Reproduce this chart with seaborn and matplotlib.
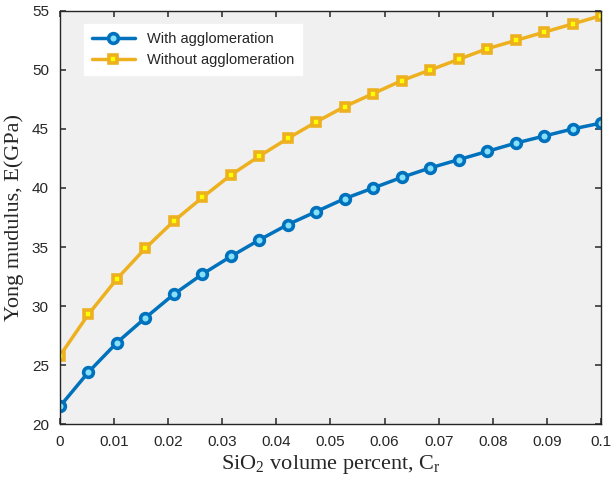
import matplotlib
matplotlib.use('Agg')
import matplotlib.pyplot as plt
import seaborn as sns
import pandas as pd

# Volume fraction of SiO2 (20 points)
cr = [0.0, 0.00526, 0.01053, 0.01579, 0.02105, 0.02632, 0.03158, 0.03684, 0.04211, 0.04737,
      0.05263, 0.05789, 0.06316, 0.06842, 0.07368, 0.07895, 0.08421, 0.08947, 0.09474, 0.1]
e_with = [21.5, 24.4, 26.9, 29.0, 31.0, 32.7, 34.2, 35.6, 36.9, 38.0,
          39.1, 40.0, 40.9, 41.7, 42.4, 43.1, 43.8, 44.4, 45.0, 45.5]
e_without = [25.8, 29.3, 32.3, 34.9, 37.2, 39.2, 41.1, 42.7, 44.2, 45.6,
             46.9, 48.0, 49.1, 50.0, 50.9, 51.8, 52.5, 53.2, 53.9, 54.6]
labels = ['With agglomeration', 'Without agglomeration']
xticks = [0, 0.01, 0.02, 0.03, 0.04, 0.05, 0.06, 0.07, 0.08, 0.09, 0.1]
xticklabels = ['0', '0.01', '0.02', '0.03', '0.04', '0.05', '0.06', '0.07', '0.08', '0.09', '0.1']
yticks = [20, 25, 30, 35, 40, 45, 50, 55]

BLUE = '#0072BD'
BLUE_FACE = '#85E0FA'
ORANGE = '#EDB120'
YELLOW_FACE = '#FFFF00'
INK = '#262626'

sns.set_theme(style='ticks', rc={
    'xtick.direction': 'in', 'ytick.direction': 'in',
    'xtick.top': True, 'ytick.right': True,
    'xtick.bottom': True, 'ytick.left': True,
    'xtick.major.size': 4, 'ytick.major.size': 4,
    'xtick.major.width': 1.1, 'ytick.major.width': 1.1,
    'xtick.color': INK, 'ytick.color': INK,
})
plt.rcParams['font.family'] = ['Liberation Sans', 'DejaVu Sans']
plt.rcParams['mathtext.fontset'] = 'custom'
plt.rcParams['mathtext.rm'] = 'Liberation Serif'

df = pd.DataFrame({'cr': cr, labels[0]: e_with, labels[1]: e_without})

fig = plt.figure(figsize=(6.11, 4.88), dpi=100)
ax = fig.add_axes([0.0982, 0.1311, 0.8854, 0.8464])
ax.set_facecolor('#F0F0F0')

sns.lineplot(data=df, x='cr', y=labels[0], ax=ax, color=BLUE, lw=2.5,
             marker='o', markersize=7, markerfacecolor=BLUE_FACE,
             markeredgecolor=BLUE, markeredgewidth=2.6, label=labels[0])
sns.lineplot(data=df, x='cr', y=labels[1], ax=ax, color=ORANGE, lw=2.5,
             marker='s', markersize=6, markerfacecolor=YELLOW_FACE,
             markeredgecolor=ORANGE, markeredgewidth=2.6, label=labels[1])

ax.set_xlim(0, 0.1)
ax.set_ylim(20, 55)
ax.set_xticks(xticks)
ax.set_xticklabels(xticklabels)
ax.set_yticks(yticks)
ax.tick_params(which='major', direction='in', length=4, width=1.1,
               top=True, right=True, bottom=True, left=True,
               labelsize=11, color=INK, labelcolor=INK, pad=8)
# make sure the inward ticks sit above the grey axes face
for tick in ax.xaxis.get_major_ticks() + ax.yaxis.get_major_ticks():
    for tl in (tick.tick1line, tick.tick2line):
        tl.set_visible(True)
        tl.set_color(INK)
        tl.set_zorder(5)
for s in ax.spines.values():
    s.set_visible(True)
    s.set_color(INK)
    s.set_linewidth(1)

ax.set_xlabel(r'SiO$_2$ volume percent, C$_\mathrm{r}$', fontsize=16,
              family='Liberation Serif', color=INK, labelpad=3)
ax.set_ylabel('Yong mudulus, E(GPa)', fontsize=16,
              family='Liberation Serif', color=INK, labelpad=6)

leg = ax.legend(loc='upper left', bbox_to_anchor=(0.03, 0.985), fontsize=10.5,
                frameon=True, facecolor='white', edgecolor='white', fancybox=False,
                framealpha=1, handlelength=3.0, borderpad=0.55, labelspacing=0.45)

fig.savefig('out.png', dpi=100)
